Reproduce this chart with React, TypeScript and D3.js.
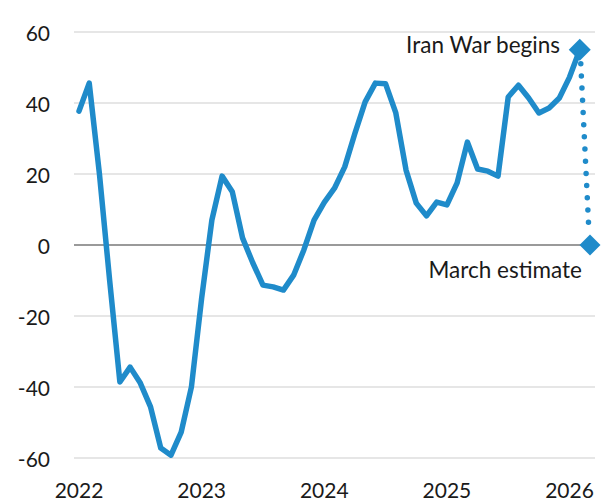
import React from "react";
import * as d3 from "d3";

const values: number[] = [
  37.7, 45.6, 20, -10, -38.6, -34.4, -38.9, -45.6, -57.2, -59.2, -52.7, -40,
  -15, 7, 19.4, 15, 2, -5, -11.3, -11.8, -12.7, -8.5, -1.4, 7,
  12, 16, 22, 31.5, 40.3, 45.6, 45.4, 37.2, 21.1, 11.8, 8.2, 12.1,
  11.3, 17.5, 29, 21.4, 20.8, 19.4, 41.7, 45, 41.4, 37.2, 38.6, 41.4,
  47.3, 55,
];
const estimateValue = 0;
const yTicks = [60, 40, 20, 0, -20, -40, -60];
const yearLabels = ["2022", "2023", "2024", "2025", "2026"];
const yearIndex = [0, 12, 24, 36, 48];
const annotationTop = "Iran War begins";
const annotationBottom = "March estimate";

const W = 607;
const H = 501;
const BLUE = "#1f8bca";
const FONT = "Lato, 'Noto Sans', sans-serif";

export default function App() {
  const x = d3.scaleLinear().domain([0, 50]).range([79, 590]);
  const y = d3.scaleLinear().domain([-60, 60]).range([458, 32]);
  const line = d3
    .line<number>()
    .x((_, i) => x(i))
    .y((d) => y(d))
    .curve(d3.curveLinear);
  const lastIdx = values.length - 1;
  const last = values[lastIdx];
  const estIdx = values.length;
  const diamond = (cx: number, cy: number, r: number) =>
    `M${cx},${cy - r}L${cx + r},${cy}L${cx},${cy + r}L${cx - r},${cy}Z`;

  return (
    <svg
      width={W}
      height={H}
      style={{ position: "absolute", left: 0, top: 0, background: "#fff" }}
    >
      {yTicks.map((t) => (
        <g key={t}>
          <line
            x1={74}
            x2={595}
            y1={y(t)}
            y2={y(t)}
            stroke={t === 0 ? "#9a9a9a" : "#dedede"}
            strokeWidth={t === 0 ? 2 : 1.3}
          />
          <text
            x={50}
            y={y(t)}
            textAnchor="end"
            dominantBaseline="central"
            fontFamily={FONT}
            fontSize={21}
            fill="#1a1a1a"
          >
            {t}
          </text>
        </g>
      ))}
      {yearLabels.map((lab, i) => (
        <text
          key={lab}
          x={x(yearIndex[i])}
          y={498}
          textAnchor="middle"
          fontFamily={FONT}
          fontSize={21}
          fill="#1a1a1a"
        >
          {lab}
        </text>
      ))}
      <path
        d={line(values) || ""}
        fill="none"
        stroke={BLUE}
        strokeWidth={5.5}
        strokeLinejoin="round"
        strokeLinecap="round"
      />
      <line
        x1={x(lastIdx) + 1}
        y1={y(last) + 14}
        x2={x(estIdx) - 1}
        y2={y(estimateValue) - 12}
        stroke={BLUE}
        strokeWidth={5.5}
        strokeLinecap="round"
        strokeDasharray="0 12.2"
      />
      <path d={diamond(x(lastIdx), y(last), 11)} fill={BLUE} />
      <path d={diamond(x(estIdx), y(estimateValue), 10.5)} fill={BLUE} />
      <text
        x={560}
        y={53}
        textAnchor="end"
        fontFamily={FONT}
        fontSize={22.5}
        fill="#1a1a1a"
      >
        {annotationTop}
      </text>
      <text
        x={582}
        y={278}
        textAnchor="end"
        fontFamily={FONT}
        fontSize={22.5}
        fill="#1a1a1a"
      >
        {annotationBottom}
      </text>
    </svg>
  );
}
